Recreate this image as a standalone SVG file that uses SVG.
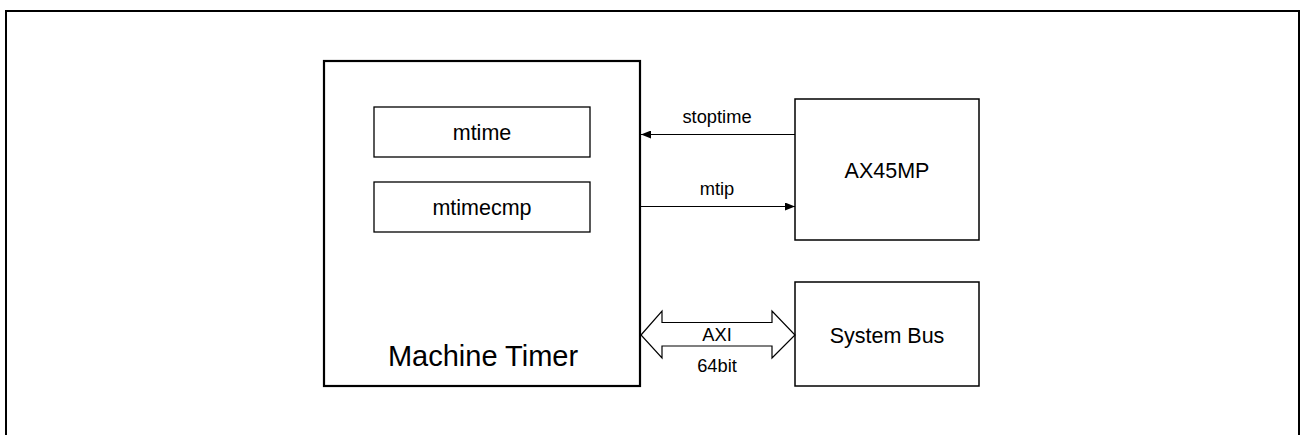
<svg xmlns="http://www.w3.org/2000/svg" width="1301" height="435" viewBox="0 0 1301 435">
<style>
  text { font-family: "Liberation Sans", Arial, sans-serif; fill: #000; text-anchor: middle; }
  .box { fill: #fff; stroke: #000; stroke-width: 1.5; }
  .thick { fill: #fff; stroke: #000; stroke-width: 2.2; }
  .reg { fill: #fff; stroke: #000; stroke-width: 1.3; }
  .lbl { font-size: 18.3px; }
  .name { font-size: 21.5px; }
  .wire { stroke: #000; stroke-width: 1.2; fill: none; }
</style>
<defs>
  <marker id="arr" viewBox="0 0 10 8" refX="10" refY="4" markerWidth="10" markerHeight="8" markerUnits="userSpaceOnUse" orient="auto">
    <path d="M0,0 L10,4 L0,8 Z" fill="#000"/>
  </marker>
</defs>
<rect width="1301" height="435" fill="#fff"/>
<rect id="frame" x="6" y="11" width="1293" height="440" fill="none" stroke="#000" stroke-width="2"/>
<g id="machine-timer">
  <rect class="thick" x="324" y="61" width="316" height="325"/>
  <text x="483" y="366" style="font-size:29px">Machine Timer</text>
</g>
<g id="mtime">
  <rect class="reg" x="374" y="107" width="216" height="50"/>
  <text class="name" x="482" y="140">mtime</text>
</g>
<g id="mtimecmp">
  <rect class="reg" x="374" y="182" width="216" height="50"/>
  <text class="name" x="482" y="215">mtimecmp</text>
</g>
<g id="ax45mp">
  <rect class="box" x="795" y="99" width="184" height="141"/>
  <text class="name" x="887" y="178">AX45MP</text>
</g>
<g id="system-bus">
  <rect class="box" x="795" y="282" width="184" height="104"/>
  <text class="name" x="887" y="343">System Bus</text>
</g>
<g id="connectors">
  <line class="wire" x1="795" y1="134.5" x2="641" y2="134.5" marker-end="url(#arr)"/>
  <text class="lbl" x="717" y="123">stoptime</text>
  <line class="wire" x1="641" y1="206.5" x2="795" y2="206.5" marker-end="url(#arr)"/>
  <text class="lbl" x="717" y="195">mtip</text>
  <polygon points="641,335 662,311 662,322.5 772,322.5 772,311 795,335 772,358 772,346 662,346 662,358" fill="#fff" stroke="#000" stroke-width="1.2" stroke-linejoin="miter"/>
  <text class="lbl" x="717" y="341">AXI</text>
  <text class="lbl" x="717" y="372">64bit</text>
</g>
</svg>
